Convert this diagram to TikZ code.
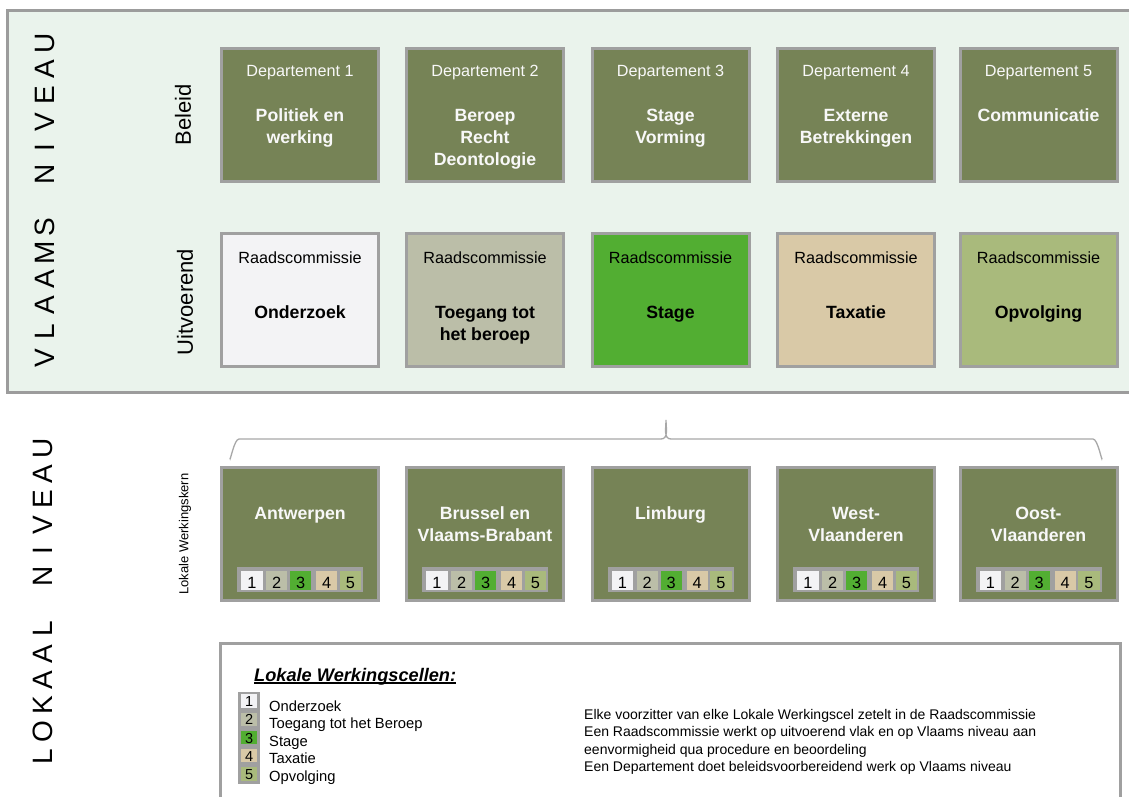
\documentclass[tikz,border=0pt]{standalone}
\usepackage{fontspec}
\setmainfont{Liberation Sans}
\definecolor{cOlive}{HTML}{768356}
\definecolor{cBorder}{HTML}{A0A0A0}
\definecolor{cTop}{HTML}{EAF3EC}
\definecolor{cTopBorder}{HTML}{9C9C9C}
\definecolor{cA}{HTML}{F3F3F5}
\definecolor{cB}{HTML}{BBBEA8}
\definecolor{cC}{HTML}{52AE32}
\definecolor{cD}{HTML}{D9C9A7}
\definecolor{cE}{HTML}{A9BA7C}
\definecolor{cStrip}{HTML}{A0A0A0}
\definecolor{cBrace}{HTML}{A8A8A8}
\definecolor{cWhiteText}{HTML}{F8F8F8}
\newlength\lcw
\newcommand\lcell[1]{\makebox[\lcw]{#1}}
\newcommand\numstrip[2]{%
  \node[stripbg] (#1) at (#2+0.3,579.7) {};
  \node[cell,fill=cA] (#1a) at (#2-48,580.3) {};
  \node[cell,fill=cB] (#1b) at (#2-23.3,580.3) {};
  \node[cell,fill=cC] (#1c) at (#2+0.7,580.3) {};
  \node[cell,fill=cD] (#1d) at (#2+26.7,580.3) {};
  \node[cell,fill=cE] (#1e) at (#2+50.5,580.3) {};
  \node[dig] (#1na) at (#2-48,588.3) {1};
  \node[dig] (#1nb) at (#2-23.3,588.3) {2};
  \node[dig] (#1nc) at (#2+0.7,588.3) {3};
  \node[dig] (#1nd) at (#2+26.7,588.3) {4};
  \node[dig] (#1ne) at (#2+50.5,588.3) {5};
}
\begin{document}
\begin{tikzpicture}[x=1pt,y=-1pt,
  box/.style={draw=cBorder,line width=3pt,minimum width=157pt,minimum height=133pt,inner sep=0pt},
  regw/.style={font=\fontsize{16.2pt}{19pt}\selectfont,text=cWhiteText,inner sep=0pt,anchor=base},
  regb/.style={font=\fontsize{16.2pt}{19pt}\selectfont,text=black,inner sep=0pt,anchor=base},
  bldw/.style={font=\fontsize{17.7pt}{22pt}\selectfont\bfseries,text=cWhiteText,inner sep=0pt,anchor=base},
  bldb/.style={font=\fontsize{17.7pt}{22pt}\selectfont\bfseries,text=black,inner sep=0pt,anchor=base},
  stripbg/.style={fill=cStrip,minimum width=126pt,minimum height=24.7pt,inner sep=0pt},
  cell/.style={minimum width=21.3pt,minimum height=19.3pt,inner sep=0pt},
  dig/.style={font=\fontsize{16.3pt}{19pt}\selectfont,text=black,inner sep=0pt,anchor=base},
  lcell/.style={minimum width=16.3pt,minimum height=13.4pt,inner sep=0pt},
  ldig/.style={font=\fontsize{14.5pt}{17pt}\selectfont,text=black,inner sep=0pt,anchor=base},
  ltxt/.style={font=\fontsize{14.75pt}{17.5pt}\selectfont,text=black,inner sep=0pt,anchor=base west},
  rtxt/.style={font=\fontsize{14pt}{17.5pt}\selectfont,text=black,inner sep=0pt,anchor=base west},
  side/.style={rotate=90,inner sep=0pt,text=black},
  bracestyle/.style={draw=cBrace,line width=1.3pt}]

\useasboundingbox (0,0) rectangle (1129,796);
\fill[white] (0,0) rectangle (1129,796);

% ---------- Vlaams niveau panel ----------
\path[draw=cTopBorder,line width=3pt,fill=cTop] (7,10) rectangle (1140,392);

\node[side,font=\fontsize{28pt}{32pt}\selectfont] (vlaams) at (45,200.5)
  {\setlength\lcw{26.25pt}\lcell{V}\lcell{L}\lcell{A}\lcell{A}\lcell{M}\lcell{S}\lcell{}\lcell{N}\lcell{I}\lcell{V}\lcell{E}\lcell{A}\lcell{U}};
\node[side,font=\fontsize{22pt}{26pt}\selectfont] (beleid) at (183,115) {Beleid};
\node[side,font=\fontsize{22pt}{26pt}\selectfont] (uitv) at (185,302) {Uitvoerend};

% Departementen
\node[box,fill=cOlive] (d1) at (300,115) {};
\node[box,fill=cOlive] (d2) at (485,115) {};
\node[box,fill=cOlive] (d3) at (670.5,115) {};
\node[box,fill=cOlive] (d4) at (856,115) {};
\node[box,fill=cOlive] (d5) at (1038.5,115) {};

\node[regw] (d1t) at (300,76.5) {Departement 1};
\node[regw] (d2t) at (485,76.5) {Departement 2};
\node[regw] (d3t) at (670.5,76.5) {Departement 3};
\node[regw] (d4t) at (856,76.5) {Departement 4};
\node[regw] (d5t) at (1038.5,76.5) {Departement 5};

\node[bldw] (d1a) at (300,121.5) {Politiek en};
\node[bldw] (d1b) at (300,143.5) {werking};
\node[bldw] (d2a) at (485,121.5) {Beroep};
\node[bldw] (d2b) at (485,143.5) {Recht};
\node[bldw] (d2c) at (485,165.5) {Deontologie};
\node[bldw] (d3a) at (670.5,121.5) {Stage};
\node[bldw] (d3b) at (670.5,143.5) {Vorming};
\node[bldw] (d4a) at (856,121.5) {Externe};
\node[bldw] (d4b) at (856,143.5) {Betrekkingen};
\node[bldw] (d5a) at (1038.5,121.5) {Communicatie};

% Raadscommissies
\node[box,fill=cA] (r1) at (300,300) {};
\node[box,fill=cB] (r2) at (485,300) {};
\node[box,fill=cC] (r3) at (670.5,300) {};
\node[box,fill=cD] (r4) at (856,300) {};
\node[box,fill=cE] (r5) at (1038.5,300) {};

\node[regb] (r1t) at (300,263.5) {Raadscommissie};
\node[regb] (r2t) at (485,263.5) {Raadscommissie};
\node[regb] (r3t) at (670.5,263.5) {Raadscommissie};
\node[regb] (r4t) at (856,263.5) {Raadscommissie};
\node[regb] (r5t) at (1038.5,263.5) {Raadscommissie};

\node[bldb] (r1a) at (300,318) {Onderzoek};
\node[bldb] (r2a) at (485,318) {Toegang tot};
\node[bldb] (r2b) at (485,340) {het beroep};
\node[bldb] (r3a) at (670.5,318) {Stage};
\node[bldb] (r4a) at (856,318) {Taxatie};
\node[bldb] (r5a) at (1038.5,318) {Opvolging};

% ---------- Lokaal niveau ----------
\node[side,font=\fontsize{28pt}{32pt}\selectfont] (lokaal) at (42.5,602.5)
  {\setlength\lcw{25.75pt}\lcell{L}\lcell{O}\lcell{K}\lcell{A}\lcell{A}\lcell{L}\lcell{}\lcell{N}\lcell{I}\lcell{V}\lcell{E}\lcell{A}\lcell{U}};
\node[side,font=\fontsize{13pt}{15pt}\selectfont] (lwk) at (185,534) {Lokale Werkingskern};

% brace
\coordinate (bL) at (230,458);
\coordinate (bR) at (1102,458);
\coordinate (bT) at (666,420);
\draw[bracestyle] (bL) to[out=-90,in=180,looseness=0.6] (239,439) -- (661,439)
  to[out=0,in=-90] (bT) to[out=-90,in=180] (671,439) -- (1093,439)
  to[out=0,in=-90,looseness=0.6] (bR);

\node[box,fill=cOlive] (l1) at (300,533.5) {};
\node[box,fill=cOlive] (l2) at (485,533.5) {};
\node[box,fill=cOlive] (l3) at (670.5,533.5) {};
\node[box,fill=cOlive] (l4) at (856,533.5) {};
\node[box,fill=cOlive] (l5) at (1038.5,533.5) {};

\node[bldw] (l1a) at (300,519) {Antwerpen};
\node[bldw] (l2a) at (485,519) {Brussel en};
\node[bldw] (l2b) at (485,541) {Vlaams-Brabant};
\node[bldw] (l3a) at (670.5,519) {Limburg};
\node[bldw] (l4a) at (856,519) {West-};
\node[bldw] (l4b) at (856,541) {Vlaanderen};
\node[bldw] (l5a) at (1038.5,519) {Oost-};
\node[bldw] (l5b) at (1038.5,541) {Vlaanderen};

\numstrip{sa}{300}
\numstrip{sb}{485}
\numstrip{sc}{670.5}
\numstrip{sd}{856}
\numstrip{se}{1038.5}

% ---------- legend ----------
\draw[draw=cBorder,line width=3pt] (220,805) -- (220,643) -- (1120,643) -- (1120,805);

\node[font=\fontsize{18.2pt}{22pt}\selectfont\bfseries\itshape,inner sep=0pt,anchor=base west] (ltitle) at (254,681) {Lokale Werkingscellen:};
\draw[line width=1.4pt] ([yshift=-2pt]ltitle.base west) -- ([yshift=-2pt]ltitle.base east);

\node[fill=cStrip,minimum width=21.7pt,minimum height=92.3pt,inner sep=0pt] (lgcol) at (249.2,737.9) {};
\node[lcell,fill=cA] (lg1) at (249.2,701) {};
\node[lcell,fill=cB] (lg2) at (249.2,719.2) {};
\node[lcell,fill=cC] (lg3) at (249.2,737.4) {};
\node[lcell,fill=cD] (lg4) at (249.2,755.6) {};
\node[lcell,fill=cE] (lg5) at (249.2,773.8) {};
\node[ldig] (lgn1) at (249.2,706.7) {1};
\node[ldig] (lgn2) at (249.2,724.9) {2};
\node[ldig] (lgn3) at (249.2,743.1) {3};
\node[ldig] (lgn4) at (249.2,761.3) {4};
\node[ldig] (lgn5) at (249.2,779.5) {5};

\node[ltxt] (lt1) at (269,711) {Onderzoek};
\node[ltxt] (lt2) at (269,728.6) {Toegang tot het Beroep};
\node[ltxt] (lt3) at (269,746.2) {Stage};
\node[ltxt] (lt4) at (269,763.8) {Taxatie};
\node[ltxt] (lt5) at (269,781.4) {Opvolging};

\node[rtxt] (rt1) at (584,719) {Elke voorzitter van elke Lokale Werkingscel zetelt in de Raadscommissie};
\node[rtxt] (rt2) at (584,736.5) {Een Raadscommissie werkt op uitvoerend vlak en op Vlaams niveau aan};
\node[rtxt] (rt3) at (584,754) {eenvormigheid qua procedure en beoordeling};
\node[rtxt] (rt4) at (584,771.5) {Een Departement doet beleidsvoorbereidend werk op Vlaams niveau};
\end{tikzpicture}
\end{document}
